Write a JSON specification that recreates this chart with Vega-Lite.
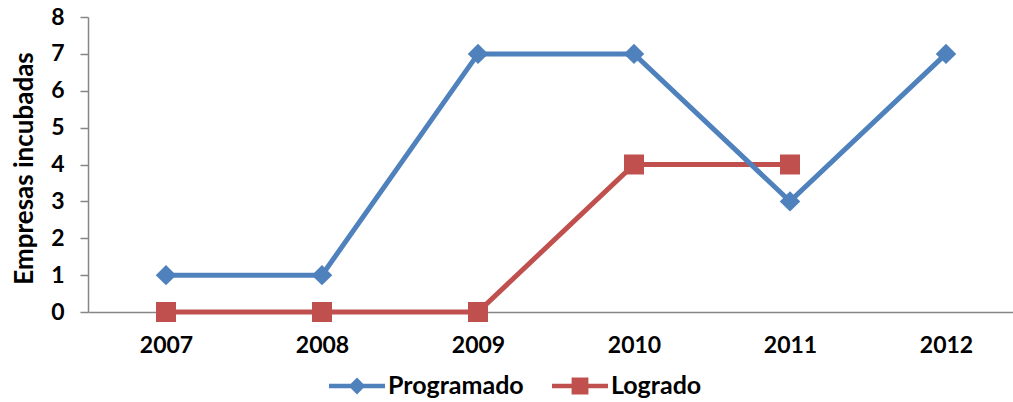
{
  "$schema": "https://vega.github.io/schema/vega-lite/v6.json",
  "width": 936,
  "height": 295,
  "autosize": {"type": "none"},
  "padding": {"left": 88, "top": 17, "right": 0, "bottom": 90},
  "background": "white",
  "config": {
    "view": {"stroke": null},
    "font": "Lato",
    "axis": {"labelFont": "Lato", "labelFontWeight": "bold", "labelFontSize": 23, "labelColor": "#000000", "titleFont": "Lato", "titleFontWeight": "bold", "titleColor": "#000000", "grid": false},
    "legend": {"labelFont": "Lato", "labelFontWeight": "bold", "labelFontSize": 25, "labelColor": "#000000", "labelLimit": 300}
  },
  "data": {
    "values": [
      {"year": "2007", "series": "Programado", "value": 1},
      {"year": "2008", "series": "Programado", "value": 1},
      {"year": "2009", "series": "Programado", "value": 7},
      {"year": "2010", "series": "Programado", "value": 7},
      {"year": "2011", "series": "Programado", "value": 3},
      {"year": "2012", "series": "Programado", "value": 7},
      {"year": "2007", "series": "Logrado", "value": 0},
      {"year": "2008", "series": "Logrado", "value": 0},
      {"year": "2009", "series": "Logrado", "value": 0},
      {"year": "2010", "series": "Logrado", "value": 4},
      {"year": "2011", "series": "Logrado", "value": 4}
    ]
  },
  "encoding": {
    "x": {
      "field": "year", "type": "ordinal",
      "scale": {"type": "point", "padding": 0.5, "domain": ["2007", "2008", "2009", "2010", "2011", "2012"]},
      "axis": {"title": null, "labelAngle": 0, "ticks": false, "labelPadding": 22, "domainColor": "#868686", "domainWidth": 1.5}
    },
    "y": {
      "field": "value", "type": "quantitative",
      "scale": {"domain": [0, 8], "nice": false, "zero": true},
      "axis": {
        "title": "Empresas incubadas", "titleFontSize": 26, "titleAngle": -90,
        "titleX": -64, "titleY": 151, "titleAlign": "center", "titleBaseline": "middle",
        "values": [0, 1, 2, 3, 4, 5, 6, 7, 8], "tickSize": 8, "tickColor": "#868686", "tickWidth": 1.5,
        "domainColor": "#868686", "domainWidth": 1.5, "labelPadding": 16
      }
    },
    "color": {
      "field": "series", "type": "nominal",
      "scale": {"domain": ["Programado", "Logrado"], "range": ["#4F81BD", "#C0504D"]},
      "legend": {
        "title": null, "orient": "none", "direction": "horizontal",
        "legendX": 241, "legendY": 341,
        "symbolSize": 3136, "symbolStrokeWidth": 0, "symbolOpacity": 1, "symbolType": "square",
        "labelOffset": 3, "columnPadding": 28,
        "encode": {
          "symbols": {
            "update": {
              "shape": {"signal": "datum.value === 'Programado' ? 'M-1,-0.08L-0.22,-0.08L0,-0.3L0.22,-0.08L1,-0.08L1,0.08L0.22,0.08L0,0.3L-0.22,0.08L-1,0.08Z' : 'M-1,-0.08L-0.3,-0.08L-0.3,-0.3L0.3,-0.3L0.3,-0.08L1,-0.08L1,0.08L0.3,0.08L0.3,0.3L-0.3,0.3L-0.3,0.08L-1,0.08Z'"},
              "fill": {"signal": "datum.value === 'Programado' ? '#4F81BD' : '#C0504D'"},
              "strokeWidth": {"value": 0}
            }
          }
        }
      }
    }
  },
  "layer": [
    {
      "transform": [{"filter": "datum.series === 'Logrado'"}],
      "mark": {"type": "line", "strokeWidth": 5}
    },
    {
      "transform": [{"filter": "datum.series === 'Logrado'"}],
      "mark": {"type": "point", "shape": "square", "filled": true, "size": 400, "opacity": 1}
    },
    {
      "transform": [{"filter": "datum.series === 'Programado'"}],
      "mark": {"type": "line", "strokeWidth": 5}
    },
    {
      "transform": [{"filter": "datum.series === 'Programado'"}],
      "mark": {"type": "point", "shape": "diamond", "filled": true, "size": 420, "opacity": 1}
    }
  ]
}
